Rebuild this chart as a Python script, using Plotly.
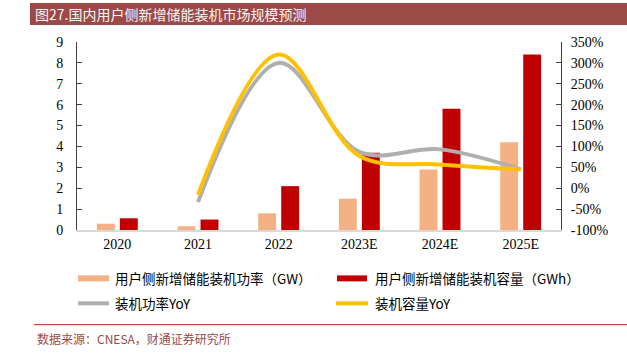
import plotly.graph_objects as go

categories = ["2020", "2021", "2022", "2023E", "2024E", "2025E"]
power_gw = [0.3, 0.18, 0.8, 1.5, 2.9, 4.2]
capacity_gwh = [0.56, 0.5, 2.1, 3.7, 5.8, 8.4]
power_yoy = [None, -33, 300, 87, 93, 45]
capacity_yoy = [None, -16, 320, 77, 57, 45]
left_ticks = list(range(0, 10))
right_ticks = list(range(-100, 351, 50))

names = ["用户侧新增储能装机功率（GW）", "用户侧新增储能装机容量（GWh）", "装机功率YoY", "装机容量YoY"]
C_LIGHT = "#F4B183"
C_DARK = "#C00000"
C_GRAY = "#AFAFAF"
C_YEL = "#FFC000"

W, H = 627, 356
L, R, T, B = 77, 561, 42, 230.5

def px(x):
    return (x - L) / (R - L)

def py(y):
    return (B - y) / (B - T)

fig = go.Figure()
fig.add_trace(go.Bar(x=categories, y=power_gw, name=names[0], marker=dict(color=C_LIGHT, line=dict(width=0)), yaxis="y"))
fig.add_trace(go.Bar(x=categories, y=capacity_gwh, name=names[1], marker=dict(color=C_DARK, line=dict(width=0)), yaxis="y"))
fig.add_trace(go.Scatter(x=categories, y=power_yoy, name=names[2], mode="lines", line=dict(color=C_GRAY, width=4, shape="spline", smoothing=1.0), yaxis="y2"))
fig.add_trace(go.Scatter(x=categories, y=capacity_yoy, name=names[3], mode="lines", line=dict(color=C_YEL, width=4, shape="spline", smoothing=1.0), yaxis="y2"))

tickfont = dict(family="Liberation Serif, Times New Roman, serif", size=14, color="#000000")

fig.update_layout(
    width=W, height=H,
    margin=dict(l=L, r=W - R, t=T, b=H - B),
    paper_bgcolor="white", plot_bgcolor="white",
    barmode="group", bargap=0.43, bargroupgap=0.22,
    showlegend=False,
    xaxis=dict(type="category", showline=True, linecolor="#D9D9D9", linewidth=1.5, ticks="",
               showgrid=False, tickfont=tickfont, zeroline=False),
    yaxis=dict(range=[0, 9], tickvals=left_ticks, showline=True, linecolor="#404040", linewidth=1,
               ticks="inside", ticklen=5, tickcolor="#404040", showgrid=False, zeroline=False,
               tickfont=tickfont, ticklabelstandoff=10),
    yaxis2=dict(range=[-100, 350], tickvals=right_ticks, ticktext=[f"{v}%" for v in right_ticks],
                overlaying="y", side="right", showline=True, linecolor="#404040", linewidth=1,
                ticks="inside", ticklen=5, tickcolor="#404040", showgrid=False, zeroline=False,
                tickfont=tickfont, ticklabelstandoff=6),
)

shapes = []
annotations = []
# title bar
shapes.append(dict(type="rect", xref="paper", yref="paper", x0=px(30), x1=px(627), y0=py(25), y1=py(3),
                   fillcolor="#9C4A47", line=dict(width=0), layer="below"))
annotations.append(dict(xref="paper", yref="paper", x=px(33), y=py(14), xanchor="left", yanchor="middle",
                        text="图27.国内用户侧新增储能装机市场规模预测", showarrow=False,
                        font=dict(family="Noto Sans CJK SC", size=14, color="#F5F5F5")))
# legend
leg_font = dict(family="Noto Sans CJK SC", size=13.5, color="#000000")
shapes.append(dict(type="rect", xref="paper", yref="paper", x0=px(78), x1=px(109), y0=py(282), y1=py(276),
                   fillcolor=C_LIGHT, line=dict(width=0)))
shapes.append(dict(type="rect", xref="paper", yref="paper", x0=px(337), x1=px(367), y0=py(282), y1=py(276),
                   fillcolor=C_DARK, line=dict(width=0)))
shapes.append(dict(type="line", xref="paper", yref="paper", x0=px(78), x1=px(109), y0=py(304), y1=py(304),
                   line=dict(color=C_GRAY, width=4)))
shapes.append(dict(type="line", xref="paper", yref="paper", x0=px(336), x1=px(368), y0=py(304), y1=py(304),
                   line=dict(color=C_YEL, width=4)))
for (x, y, t) in [(113, 279, names[0]), (373, 279, names[1]), (113, 304, names[2]), (373, 304, names[3])]:
    annotations.append(dict(xref="paper", yref="paper", x=px(x), y=py(y), xanchor="left", yanchor="middle",
                            text=t, showarrow=False, font=leg_font))
# source line
shapes.append(dict(type="line", xref="paper", yref="paper", x0=px(34), x1=px(627), y0=py(325.3), y1=py(325.3),
                   line=dict(color="#C0504D", width=1.2)))
annotations.append(dict(xref="paper", yref="paper", x=px(35), y=py(339), xanchor="left", yanchor="middle",
                        text="数据来源：CNESA，财通证券研究所", showarrow=False,
                        font=dict(family="Noto Sans CJK SC", size=12, color="#9C4A47")))

fig.update_layout(shapes=shapes, annotations=annotations)
fig.write_html("out.html", config={"displayModeBar": False},
               post_script="document.body.style.margin='0';document.body.style.padding='0';")
